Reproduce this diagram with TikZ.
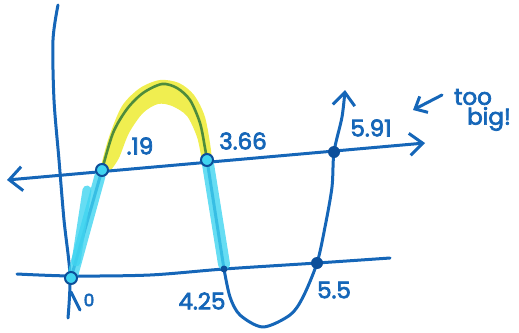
\documentclass[tikz,border=0pt]{standalone}
\usepackage{fontspec}
\setmainfont{Poppins}
\newfontfamily\handfont{Poppins}[FakeBold=3]
\usetikzlibrary{arrows.meta}
\definecolor{ink}{HTML}{1566B8}
\definecolor{inkdark}{HTML}{0D4F9A}
\definecolor{hlcyan}{HTML}{40D4F0}
\definecolor{hlyellow}{HTML}{F0EE50}
\definecolor{archgreen}{HTML}{4E8C3C}
\tikzset{
  pen/.style={draw=ink, line width=3pt, line cap=round, line join=round},
  barb/.style={-{Straight Barb[length=13pt,width=22pt,line width=3pt]}},
  hand/.style={text=ink, font=\handfont\fontsize{23}{25}\selectfont, inner sep=0pt},
  ringdot/.style={circle, draw=inkdark, line width=2pt, fill=hlcyan, minimum size=12pt, inner sep=0pt},
  soliddot/.style={circle, fill=inkdark, minimum size=12pt, inner sep=0pt},
  smalldot/.style={circle, fill=inkdark, minimum size=7pt, inner sep=0pt}
}
\begin{document}
\begin{tikzpicture}[x=1pt,y=-1pt]
\useasboundingbox (0,0) rectangle (519,332);
% key points
\coordinate (A) at (71,278);
\coordinate (B) at (102,170);
\coordinate (P) at (162,84);
\coordinate (C) at (207,160);
\coordinate (D) at (224,269);
\coordinate (E) at (263,327);
\coordinate (F) at (317,263);
\coordinate (G) at (334,152);
\coordinate (H) at (345,90);
\coordinate (UL) at (7,180);
\coordinate (UR) at (425,143);
\coordinate (LL) at (17,274);
\coordinate (LR) at (390,258);
% yellow highlight of arch
\fill[hlyellow, line join=round]
  plot[smooth] coordinates {(101,166) (109,137) (122,106) (140,88) (160,80) (179,83) (194,95) (205,117) (211,150) (211,158)}
  -- plot[smooth] coordinates {(201,156) (197,137) (187,116) (172,106) (158,104) (143,113) (129,133) (119,158) (111,170)} -- cycle;
% axis
\draw[pen] plot[smooth] coordinates {(58,5) (53,40) (54,100) (59,160) (64,220) (70,275) (68,318)};
\draw[pen] (71,292) -- (80,310);
% horizontal lines
\draw[pen, {Straight Barb[length=13pt,width=24pt,line width=3pt]}-{Straight Barb[length=13pt,width=22pt,line width=3pt]}] (UL) -- (UR);
\draw[pen] plot[smooth] coordinates {(LL) (72,276) (150,275) (D) (F) (LR)};
% curve
\draw[pen] (A) -- (B);
\draw[draw=archgreen, line width=2.6pt, line cap=round]
  plot[smooth] coordinates {(B) (113,133) (127,109) (143,93) (P) (177,88) (190,100) (200,123) (205,148) (C)};
\draw[pen] (C) -- (D);
\draw[pen, barb] plot[smooth] coordinates {(D) (230,297) (240,315) (E) (290,315) (303,297) (F) (325,227) (332,187) (G) (342,117) (H)};
% cyan highlights
\draw[hlcyan, opacity=0.8, line width=11pt, line cap=round] (73,274) -- (100,176);
\draw[hlcyan, opacity=0.8, line width=9pt, line cap=round] (76,262) -- (87,190);
\draw[hlcyan, opacity=0.8, line width=12pt, line cap=round] (208,164) -- (224,264);
% dots
\node[ringdot] (dA) at (A) {};
\node[ringdot] (dB) at (B) {};
\node[ringdot] (dC) at (C) {};
\node[smalldot] (dD) at (D) {};
\node[soliddot] (dF) at (F) {};
\node[soliddot] (dG) at (G) {};
% labels
\node[hand] (l19) at (140,146) {.19};
\node[hand] (l366) at (243,141) {3.66};
\node[hand] (l591) at (371,128) {5.91};
\node[hand] (l0) at (89,300) {\fontsize{17}{18}\selectfont 0};
\node[hand] (l425) at (202,301) {4.25};
\node[hand] (l55) at (334,290) {5.5};
\node[hand] (ltoo) at (473,97) {too};
\node[hand] (lbig) at (489,119) {big!};
\coordinate (arS) at (442,95);
\coordinate (arT) at (413,110);
\draw[pen, -{Straight Barb[length=10pt,width=18pt,line width=3pt]}] (arS) -- (arT);
\end{tikzpicture}
\end{document}
